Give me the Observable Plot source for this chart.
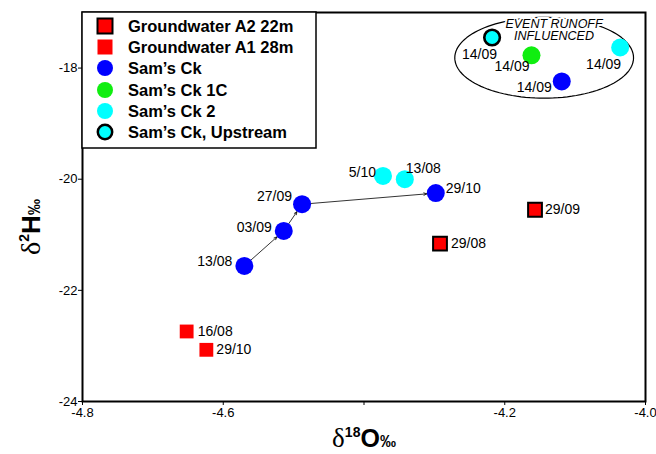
<!DOCTYPE html>
<html><head><meta charset="utf-8">
<script src="https://cdn.jsdelivr.net/npm/d3@7"></script>
<script src="https://cdn.jsdelivr.net/npm/@observablehq/plot@0.6"></script>
<style>
body{margin:0;background:#fff}
#chart svg{font-family:"Liberation Sans",Arial,sans-serif}
</style>
</head><body><div id="chart"></div>
<script>
// ---- data ----
const seriesNames = ["Groundwater A2 22m","Groundwater A1 28m","Sam\u2019s Ck","Sam\u2019s Ck 1C","Sam\u2019s Ck 2","Sam\u2019s Ck, Upstream"];
const sampleSeries = [0,0,1,1,2,2,2,2,2,3,4,4,4,5];
const sampleDates  = ["29/09","29/08","16/08","29/10","13/08","03/09","27/09","29/10","14/09","14/09","5/10","13/08","14/09","14/09"];
const d18O = [-4.157,-4.292,-4.652,-4.624,-4.570,-4.514,-4.488,-4.298,-4.119,-4.162,-4.373,-4.342,-4.036,-4.218];
const d2H  = [-20.55,-21.16,-22.74,-23.07,-21.56,-20.93,-20.45,-20.25,-18.24,-17.77,-19.94,-20.00,-17.63,-17.45];
const arrowPath = [4,5,6,7]; // Sam's Ck sequence 13/08 -> 03/09 -> 27/09 -> 29/10
const xTicks = [-4.8,-4.6,-4.4,-4.2,-4.0];
const xTickLabels = ["-4.8","-4.6","","-4.2","-4.0"];
const yTicks = [-24,-22,-20,-18];
const annotationLines = ["EVENT RUNOFF","INFLUENCED"];

// ---- styles ----
const seriesFill = ["#ff0000","#ff0000","#0000ff","#10ee10","#00ffff","#00ffff"];
const seriesOutlined = [true,false,false,false,false,true];
const seriesSymbol = ["square","square","circle","circle","circle","circle"];
// label placement per sample: [textAnchor, dx, dy]
const labelPlace = [["start",10,0],["start",11,0],["start",11,0],["start",10,0],
  ["end",-12,-4],["end",-12,-3],["end",-10,-8],["start",10,-5],["end",-10,6],
  ["end",-2,11],["end",-7,-3],["start",1,-11],["end",1,17],["end",5,17]];
const ellipse = {cx:-4.144, cy:-17.815, rx:0.127, ry:0.727};
const annotationPos = {x:-4.130, y:[-17.20,-17.43]};

const samples = sampleDates.map((d,i)=>({
  series: seriesNames[sampleSeries[i]], s: sampleSeries[i], date: d, x: d18O[i], y: d2H[i],
  anchor: labelPlace[i][0], dx: labelPlace[i][1], dy: labelPlace[i][2]
}));
const arrows = arrowPath.slice(1).map((j,k)=>({a: samples[arrowPath[k]], b: samples[j]}));
const ellipsePts = d3.range(0, 361, 3).map(t => ({
  x: ellipse.cx + ellipse.rx*Math.cos(t*Math.PI/180),
  y: ellipse.cy + ellipse.ry*Math.sin(t*Math.PI/180)
}));

const squares = samples.filter(d => seriesSymbol[d.s]==="square");
const circlesPlain = samples.filter(d => seriesSymbol[d.s]==="circle" && !seriesOutlined[d.s]);
const circlesOutlined = samples.filter(d => seriesSymbol[d.s]==="circle" && seriesOutlined[d.s]);

const chart = Plot.plot({
  width:656, height:454,
  marginLeft:82, marginRight:11, marginTop:12, marginBottom:53,
  style:{fontFamily:"Liberation Sans, Arial, sans-serif", fontSize:"13px", color:"black", background:"white"},
  x:{domain:[-4.8,-4.0]},
  y:{domain:[-24,-17]},
  marks:[
    Plot.line(ellipsePts, {x:"x", y:"y", stroke:"black", strokeWidth:1.2}),
    Plot.text(annotationLines, {x:annotationPos.x, y:(d,i)=>annotationPos.y[i], text:d=>d,
      fontStyle:"italic", fontSize:12.5, fill:"black", stroke:"white", strokeWidth:4, paintOrder:"stroke"}),
    Plot.arrow(arrows, {x1:d=>d.a.x, y1:d=>d.a.y, x2:d=>d.b.x, y2:d=>d.b.y,
      insetEnd:9, headLength:6, headAngle:45, stroke:"black", strokeWidth:0.8}),
    Plot.dot(squares, {x:"x", y:"y", symbol:"square", r:7.8, fill:d=>seriesFill[d.s],
      stroke:d=>seriesOutlined[d.s]?"black":"none", strokeWidth:2}),
    Plot.dot(circlesPlain, {x:"x", y:"y", r:9, fill:d=>seriesFill[d.s], stroke:"none"}),
    Plot.dot(circlesOutlined, {x:"x", y:"y", r:7.8, fill:d=>seriesFill[d.s], stroke:"black", strokeWidth:2.6}),
    ...samples.map(d => Plot.text([d], {x:"x", y:"y", text:"date", textAnchor:d.anchor,
      dx:d.dx, dy:d.dy, fontSize:14, fill:"black"})),
    Plot.axisX({ticks:xTicks, tickFormat:v=>xTickLabels[xTicks.indexOf(v)] ?? String(v), tickSize:4, tickPadding:2, label:null, fontSize:13}),
    Plot.axisY({ticks:yTicks, tickFormat:v=>String(v), tickSize:4, tickPadding:1, label:null, fontSize:13}),
    Plot.frame({stroke:"black", strokeWidth:2})
  ]
});
document.getElementById("chart").appendChild(chart);

// ---- legend (inside top-left of frame) ----
const svg = d3.select(chart);
const L = 82, T = 12;
const lg = svg.append("g").attr("text-anchor","start");
lg.append("rect").attr("x",L).attr("y",T).attr("width",234).attr("height",136)
  .attr("fill","white").attr("stroke","black").attr("stroke-width",1.5);
const rowY = [26,47,68,90,111,132];
seriesNames.forEach((name,i) => {
  const cy = rowY[i];
  if (seriesSymbol[i]==="square") {
    lg.append("rect").attr("x",105-7.5).attr("y",cy-7.5).attr("width",15).attr("height",15)
      .attr("fill",seriesFill[i]).attr("stroke",seriesOutlined[i]?"black":"none").attr("stroke-width",2);
  } else {
    lg.append("circle").attr("cx",105).attr("cy",cy).attr("r",seriesOutlined[i]?7.2:8)
      .attr("fill",seriesFill[i]).attr("stroke",seriesOutlined[i]?"black":"none").attr("stroke-width",2.5);
  }
  lg.append("text").attr("x",128).attr("y",cy).attr("dy","0.36em").attr("text-anchor","start")
    .attr("font-size",16.5).attr("font-weight","bold").attr("fill","black").text(name);
});

// ---- axis titles ----
const xt = svg.append("text").attr("x",364).attr("y",447).attr("text-anchor","middle").attr("fill","black");
xt.append("tspan").attr("font-family","Liberation Serif, serif").attr("font-size",27).text("\u03B4");
xt.append("tspan").attr("font-weight","bold").attr("font-size",14).attr("dy",-10).text("18");
xt.append("tspan").attr("font-weight","bold").attr("font-size",25).attr("dy",10).text("O");
xt.append("tspan").attr("font-size",16).attr("font-weight","bold").text("\u2030");

const yt = svg.append("text").attr("transform","translate(40,227) rotate(-90)").attr("text-anchor","middle").attr("fill","black");
yt.append("tspan").attr("font-family","Liberation Serif, serif").attr("font-size",28).text("\u03B4");
yt.append("tspan").attr("font-weight","bold").attr("font-size",14).attr("dy",-11).text("2");
yt.append("tspan").attr("font-weight","bold").attr("font-size",26).attr("dy",11).text("H");
yt.append("tspan").attr("font-size",16).attr("font-weight","bold").text("\u2030");
</script>
</body></html>
